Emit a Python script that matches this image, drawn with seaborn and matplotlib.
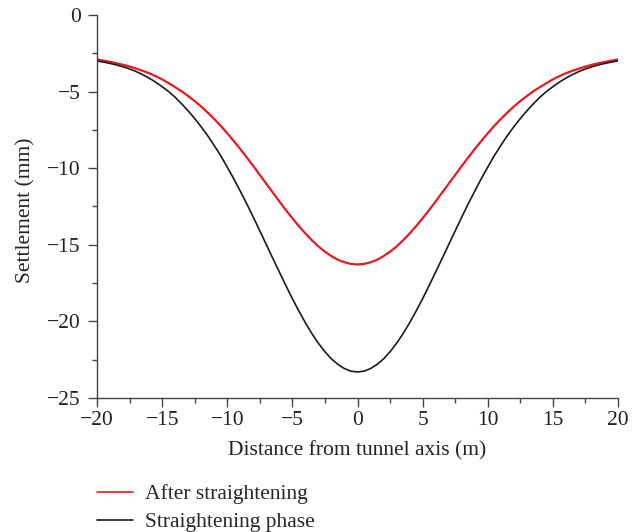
import numpy as np
import pandas as pd
import seaborn as sns
import matplotlib
matplotlib.use("Agg")
import matplotlib.pyplot as plt
from matplotlib.ticker import MultipleLocator
from matplotlib.lines import Line2D

# Values (distance in m, settlement in mm), left half -20..0 step 0.5
half_distance = [-20, -19.5, -19, -18.5, -18, -17.5, -17, -16.5, -16, -15.5,
                 -15, -14.5, -14, -13.5, -13, -12.5, -12, -11.5, -11, -10.5,
                 -10, -9.5, -9, -8.5, -8, -7.5, -7, -6.5, -6, -5.5,
                 -5, -4.5, -4, -3.5, -3, -2.5, -2, -1.5, -1, -0.5, 0]
after_half = [-2.9, -2.98, -3.06, -3.15, -3.25, -3.37, -3.5, -3.64, -3.8, -3.99,
              -4.2, -4.45, -4.71, -4.98, -5.29, -5.62, -5.98, -6.37, -6.79, -7.24,
              -7.72, -8.23, -8.75, -9.3, -9.86, -10.44, -11.02, -11.59, -12.17, -12.73,
              -13.27, -13.78, -14.26, -14.71, -15.11, -15.45, -15.74, -15.98, -16.14, -16.25, -16.28]
phase_half = [-3.0, -3.07, -3.16, -3.26, -3.38, -3.52, -3.69, -3.89, -4.12, -4.38,
              -4.68, -5.0, -5.37, -5.8, -6.26, -6.76, -7.3, -7.88, -8.52, -9.19,
              -9.93, -10.69, -11.5, -12.33, -13.2, -14.09, -14.99, -15.89, -16.78, -17.66,
              -18.52, -19.33, -20.09, -20.8, -21.43, -21.98, -22.45, -22.81, -23.08, -23.25, -23.3]

distance = half_distance + [-d for d in half_distance[-2::-1]]
after_straightening = after_half + after_half[-2::-1]
straightening_phase = phase_half + phase_half[-2::-1]

series_names = ["After straightening", "Straightening phase"]
series_colors = ["#e8191f", "#1a1a1a"]

df = pd.concat([
    pd.DataFrame({"x": distance, "y": after_straightening, "series": series_names[0]}),
    pd.DataFrame({"x": distance, "y": straightening_phase, "series": series_names[1]}),
])

sns.set_theme(style="ticks")
plt.rcParams["font.family"] = ["Liberation Serif", "DejaVu Serif"]
plt.rcParams["axes.unicode_minus"] = True

FS = 15.5
fig = plt.figure(figsize=(6.4, 5.32), dpi=100)
ax = fig.add_axes([0.1516, 0.2519, 0.814, 0.7199])

sns.lineplot(data=df, x="x", y="y", hue="series", hue_order=series_names,
             palette=series_colors, ax=ax, legend=False, linewidth=1.3, sort=True)
for line, lw in zip(ax.get_lines(), [1.6, 1.2]):
    line.set_linewidth(lw)

ax.set_xlim(-20, 20)
ax.set_ylim(-25, 0)
ax.xaxis.set_major_locator(MultipleLocator(5))
ax.xaxis.set_minor_locator(MultipleLocator(2.5))
ax.yaxis.set_major_locator(MultipleLocator(5))
ax.yaxis.set_minor_locator(MultipleLocator(2.5))

for side in ["top", "right"]:
    ax.spines[side].set_visible(False)
for side in ["left", "bottom"]:
    ax.spines[side].set_color("#444444")
    ax.spines[side].set_linewidth(1.0)

ax.tick_params(axis="both", which="major", direction="out", length=6.7, width=1,
               color="#444444", labelsize=FS, labelcolor="#222222")
ax.tick_params(axis="x", which="major", pad=3)
ax.tick_params(axis="y", which="major", pad=5)
ax.tick_params(axis="both", which="minor", direction="out", length=3.6, width=1,
               color="#444444")

ax.set_xlabel("Distance from tunnel axis (m)", fontsize=FS, color="#222222")
ax.set_ylabel("Settlement (mm)", fontsize=FS, color="#222222")
ax.xaxis.set_label_coords(0.5, -0.112)
ax.yaxis.set_label_coords(-0.118, 0.49)

handles = [Line2D([], [], color=c, linewidth=1.2) for c in series_colors]
fig.legend(handles, series_names, loc="upper left", bbox_to_anchor=(0.138, 0.106),
           frameon=False, fontsize=FS, handlelength=1.68, handletextpad=0.56,
           labelspacing=0.36, borderaxespad=0)

fig.savefig("out.png", dpi=100)
